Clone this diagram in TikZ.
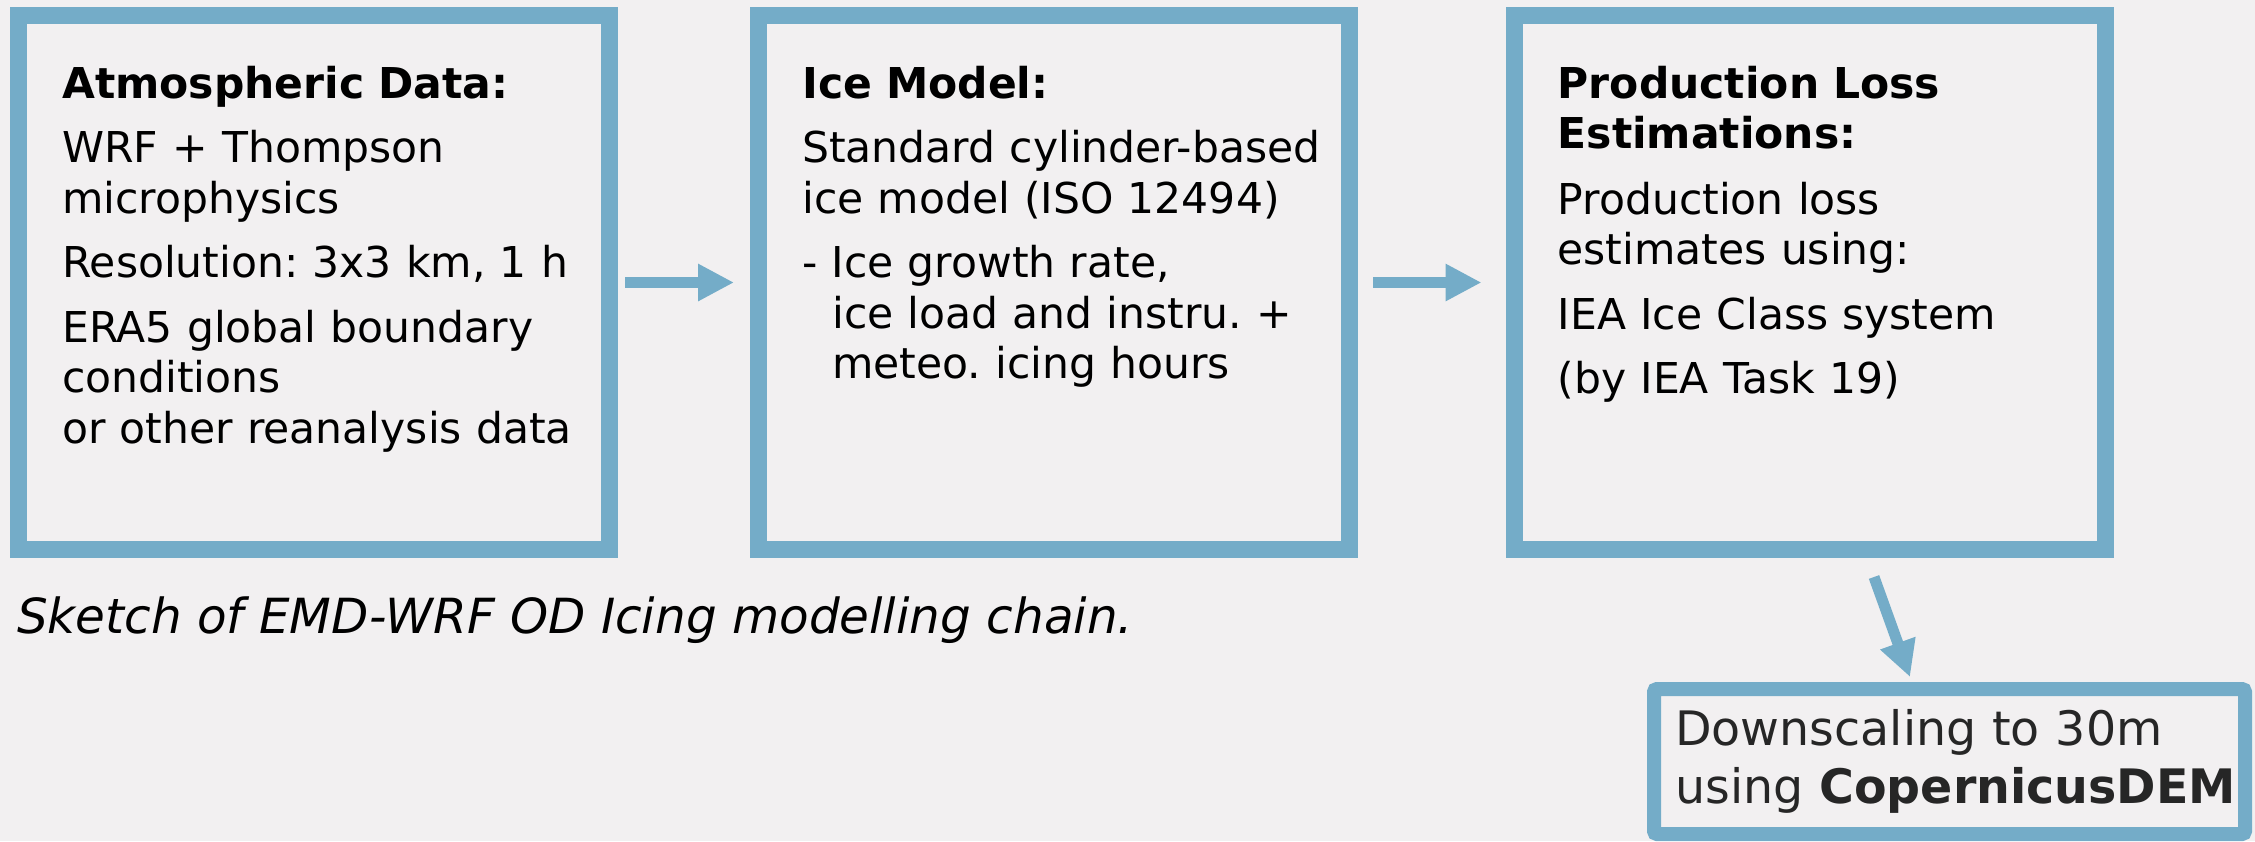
\documentclass[tikz,border=0pt]{standalone}
\usepackage{fontspec}
\setmainfont{DejaVu Sans}
\usetikzlibrary{arrows.meta}
\definecolor{chainblue}{RGB}{116,172,200}
\definecolor{bggray}{RGB}{242,240,241}
\definecolor{demgray}{RGB}{38,38,38}
\frenchspacing

\begin{document}
\begin{tikzpicture}[x=1pt,y=-1pt,
    stage/.style={draw=chainblue, line width=17pt, fill=bggray, inner sep=0pt,
        minimum width=591pt, minimum height=534pt},
    stagetext/.style={anchor=base west, inner sep=0pt, text width=600pt, align=left,
        font=\fontsize{42.5}{50.5}\selectfont},
    flow/.style={draw=chainblue, line width=11pt, -{Triangle[length=36pt,width=35pt]}}]
    \fill[bggray] (0,0) rectangle (2255,841);
    \useasboundingbox (0,0) rectangle (2255,841);

    \node[stage] (atm) at (314,282.5) {};
    \node[stage] (ice) at (1054,282.5) {};
    \node[stage] (loss) at (1809.5,282.5) {};
    \node[stage, line width=14pt, rounded corners=3pt, minimum height=145pt] (dem) at (1949.5,761.5) {};

    \node[stagetext] (atmtext) at ([xshift=52pt,yshift=-91pt]atm.north west)
        {\textbf{Atmospheric Data:}\\[14pt]
         WRF + Thompson\\ microphysics\\[14pt]
         Resolution: 3x3 km, 1 h\\[14pt]
         ERA5 global boundary\\ conditions\\ or other reanalysis data};
    \node[stagetext] (icetext) at ([xshift=52pt,yshift=-91pt]ice.north west)
        {\textbf{Ice Model:}\\[14pt]
         Standard cylinder-based\\ ice model (ISO 12494)\\[14pt]
         - Ice growth rate,\\ \hspace*{30pt}ice load and instru. +\\ \hspace*{30pt}meteo. icing hours};
    \node[stagetext] (losstext) at ([xshift=52pt,yshift=-91pt]loss.north west)
        {\textbf{Production Loss}\\ \textbf{Estimations:}\\[15pt]
         Production loss\\ estimates using:\\[14pt]
         IEA Ice Class system\\[14pt]
         (by IEA Task 19)};
    \node[anchor=base west, inner sep=0pt, text width=600pt, align=left, text=demgray,
        font=\fontsize{47.5}{58}\selectfont] (demtext) at ([xshift=28pt,yshift=-63pt]dem.north west)
        {Downscaling to 30m\\ using \textbf{CopernicusDEM}};

    \node[anchor=base west, inner sep=0pt, font=\fontsize{48.4}{58}\selectfont\itshape] (caption)
        at (17,633) {Sketch of EMD-WRF OD Icing modelling chain.};

    \draw[flow] ([xshift=7pt]atm.east) -- ([xshift=-16pt]ice.west);
    \draw[flow] ([xshift=15pt]ice.east) -- ([xshift=-24pt]loss.west);
    \draw[flow] ([xshift=64.5pt,yshift=-19pt]loss.south) -- ([xshift=-39.5pt,yshift=5pt]dem.north);
\end{tikzpicture}
\end{document}
